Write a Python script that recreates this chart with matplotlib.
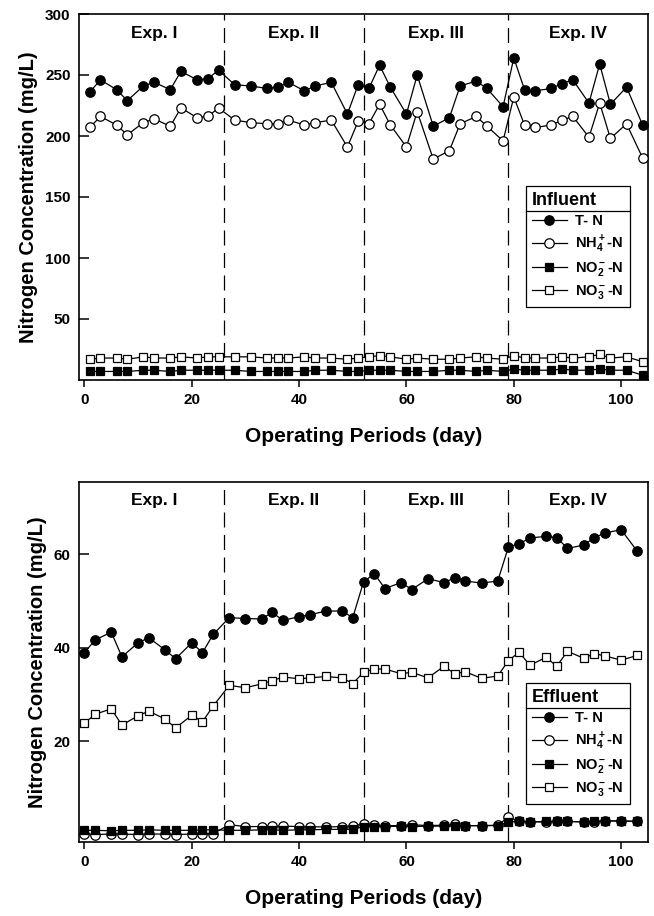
import matplotlib
matplotlib.use("Agg")
import matplotlib.pyplot as plt
from matplotlib.lines import Line2D
from matplotlib.transforms import blended_transform_factory

plt.rcParams['font.family'] = ['Liberation Sans', 'DejaVu Sans']
plt.rcParams['font.weight'] = 'bold'
plt.rcParams['mathtext.fontset'] = 'custom'
plt.rcParams['mathtext.rm'] = 'Liberation Sans:bold'
plt.rcParams['mathtext.it'] = 'Liberation Sans:bold'
plt.rcParams['mathtext.bf'] = 'Liberation Sans:bold'
plt.rcParams['mathtext.default'] = 'rm'

# ---------------- data ----------------
exp_labels = ["Exp. I", "Exp. II", "Exp. III", "Exp. IV"]
exp_bounds = [26, 52, 79]
exp_centers = [13, 39, 65.5, 92]

days_inf = [1, 3, 6, 8, 11, 13, 16, 18, 21, 23, 25,
            28, 31, 34, 36, 38, 41, 43, 46, 49, 51,
            53, 55, 57, 60, 62, 65, 68, 70, 73, 75, 78,
            80, 82, 84, 87, 89, 91, 94, 96, 98, 101, 104]
tn_inf = [236, 246, 238, 229, 241, 244, 238, 253, 246, 247, 254,
          242, 241, 239, 240, 244, 237, 241, 244, 218, 242,
          239, 258, 240, 218, 250, 208, 215, 241, 245, 239, 224,
          264, 238, 237, 239, 243, 246, 227, 259, 226, 240, 209]
nh4_inf = [207, 216, 209, 201, 211, 214, 208, 223, 215, 216, 223,
           213, 211, 210, 210, 213, 209, 211, 213, 191, 212,
           210, 226, 209, 191, 220, 181, 188, 210, 216, 208, 196,
           232, 209, 207, 209, 213, 216, 199, 227, 198, 210, 182]
no2_inf = [7, 7, 7, 7, 8, 8, 7, 8, 8, 8, 8,
           8, 7, 7, 7, 7, 7, 8, 8, 7, 7,
           8, 8, 8, 7, 7, 7, 8, 8, 7, 8, 7,
           9, 8, 8, 8, 9, 8, 8, 9, 8, 8, 4]
no3_inf = [17, 18, 18, 17, 19, 18, 18, 19, 18, 19, 19,
           19, 19, 18, 18, 18, 19, 18, 18, 17, 18,
           19, 20, 19, 17, 18, 17, 17, 18, 19, 18, 17,
           20, 18, 18, 18, 19, 18, 19, 21, 18, 19, 15]

days_eff = [0, 2, 5, 7, 10, 12, 15, 17, 20, 22, 24,
            27, 30, 33, 35, 37, 40, 42, 45, 48, 50,
            52, 54, 56, 59, 61, 64, 67, 69, 71, 74, 77,
            79, 81, 83, 86, 88, 90, 93, 95, 97, 100, 103]
tn_eff = [39.0, 41.7, 43.4, 38.1, 41.1, 42.2, 39.6, 37.7, 41.1, 39.0, 42.9,
          46.5, 46.3, 46.2, 47.6, 45.9, 46.7, 47.1, 47.9, 47.9, 46.5,
          54.1, 55.9, 52.7, 54.0, 52.5, 54.8, 54.0, 55.0, 54.3, 53.9, 54.3,
          61.6, 62.3, 63.5, 63.9, 63.6, 61.3, 62.0, 63.6, 64.6, 65.3, 60.7]
nh4_eff = [0.2, 0.1, 0.2, 0.2, 0.1, 0.2, 0.2, 0.1, 0.2, 0.2, 0.3,
           2.2, 1.8, 1.8, 1.9, 1.9, 1.8, 1.8, 1.7, 1.8, 1.9,
           2.4, 2.1, 2.0, 2.0, 2.2, 2.0, 2.1, 2.3, 2.0, 2.0, 2.1,
           3.8, 2.9, 2.8, 2.8, 2.9, 2.9, 2.8, 2.8, 3.0, 3.0, 2.9]
no2_eff = [1.0, 1.0, 0.9, 1.0, 1.0, 1.1, 1.0, 1.0, 1.0, 1.1, 1.1,
           1.0, 1.0, 1.1, 1.1, 1.0, 1.1, 1.1, 1.2, 1.2, 1.2,
           1.8, 1.8, 1.8, 1.9, 1.8, 1.9, 1.9, 1.9, 2.0, 2.0, 2.0,
           2.8, 2.9, 2.8, 2.9, 2.9, 2.9, 2.8, 2.9, 3.0, 3.0, 2.9]
no3_eff = [23.9, 25.8, 27.0, 23.5, 25.5, 26.5, 24.8, 22.9, 25.6, 24.2, 27.6,
           32.0, 31.5, 32.3, 33.0, 33.8, 33.4, 33.6, 33.9, 33.6, 32.4,
           34.8, 35.5, 35.5, 34.5, 34.8, 33.6, 36.1, 34.5, 34.9, 33.5, 34.0,
           37.3, 39.1, 36.3, 38.0, 36.1, 39.3, 37.8, 38.8, 38.3, 37.4, 38.4]

series_names = ["T- N", r"NH$_4^+$-N", r"NO$_2^-$-N", r"NO$_3^-$-N"]
x_ticks = [0, 20, 40, 60, 80, 100]
y_ticks_inf = [50, 100, 150, 200, 250, 300]
y_ticks_eff = [20, 40, 60]

# ---------------- figure ----------------
fig = plt.figure(figsize=(6.54, 9.16), dpi=100)
W, H = 654, 916
ax1 = fig.add_axes([79 / W, 1 - 380 / H, 569 / W, 366 / H])
ax2 = fig.add_axes([79 / W, 1 - 842 / H, 569 / W, 360 / H])

styles = [dict(marker='o', mfc='black', mec='black', ms=6.8),
          dict(marker='o', mfc='white', mec='black', ms=6.8),
          dict(marker='s', mfc='black', mec='black', ms=6.0),
          dict(marker='s', mfc='white', mec='black', ms=6.0)]


def draw(ax, days, series, ylim, yticks, title, legend_anchor):
    handles = []
    for i, (vals, st) in enumerate(zip(series, styles)):
        h, = ax.plot(days, vals, color='black', lw=0.9, mew=0.9,
                     label=series_names[i], zorder=3 + i, clip_on=False, **st)
        handles.append(h)
    for b in exp_bounds:
        ax.axvline(b, color='black', lw=0.9, ls=(0, (12, 6)), zorder=1)
    tr = blended_transform_factory(ax.transData, ax.transAxes)
    for lab, c in zip(exp_labels, exp_centers):
        ax.text(c, 0.948, lab, transform=tr, ha='center', va='center',
                fontsize=12.5, fontweight='bold')
    ax.set_xlim(-1, 105)
    ax.set_ylim(*ylim)
    ax.set_xticks(x_ticks)
    ax.set_yticks(yticks)
    ax.tick_params(axis='x', direction='out', length=5, width=1.1, pad=4,
                   labelsize=11)
    ax.tick_params(axis='y', direction='in', length=7, width=1.1, pad=6,
                   labelsize=11)
    for lbl in ax.get_xticklabels() + ax.get_yticklabels():
        lbl.set_fontweight('bold')
    for s in ax.spines.values():
        s.set_linewidth(1.2)
    ax.set_xlabel("Operating Periods (day)", fontsize=15, fontweight='bold',
                  labelpad=15)
    ax.set_ylabel("Nitrogen Concentration (mg/L)", fontsize=14.5,
                  fontweight='bold', labelpad=5)
    leg = ax.legend(handles=handles, title=title, loc='lower right',
                    bbox_to_anchor=legend_anchor, borderaxespad=0,
                    fancybox=False, edgecolor='black', framealpha=1,
                    fontsize=10.5, title_fontproperties=dict(size=13, weight='bold'),
                    alignment='left', handlelength=2.4, handletextpad=0.6,
                    labelspacing=0.35, borderpad=0.4)
    leg.get_frame().set_linewidth(0.9)
    leg.set_zorder(10)
    return leg


leg1 = draw(ax1, days_inf, [tn_inf, nh4_inf, no2_inf, no3_inf], (0, 300),
            y_ticks_inf, "Influent", (0.968, 0.2))
leg2 = draw(ax2, days_eff, [tn_eff, nh4_eff, no2_eff, no3_eff], (-1.5, 75.5),
            y_ticks_eff, "Effluent", (0.968, 0.106))

fig.canvas.draw()
inv = fig.transFigure.inverted()
for leg in (leg1, leg2):
    bb = leg.get_window_extent()
    tb = leg.get_title().get_window_extent()
    y = tb.y0 - 2
    (x0, yy), (x1, _) = inv.transform([(bb.x0, y), (bb.x1, y)])
    fig.add_artist(Line2D([x0, x1], [yy, yy], color='black', lw=0.9,
                          transform=fig.transFigure, zorder=20))

fig.savefig("out.png", dpi=100, facecolor='white')
